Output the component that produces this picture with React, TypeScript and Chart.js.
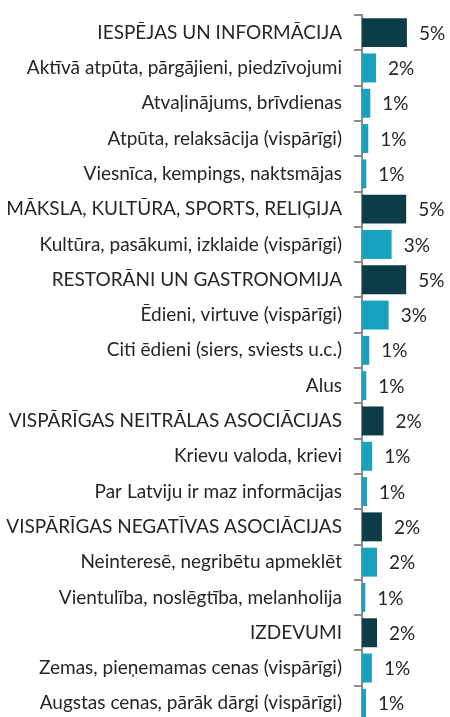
import React, { useEffect, useRef } from "react";
import { Chart, registerables } from "chart.js";

Chart.register(...registerables);

const categories: string[] = [
  "IESPĒJAS UN INFORMĀCIJA",
  "Aktīvā atpūta, pārgājieni, piedzīvojumi",
  "Atvaļinājums, brīvdienas",
  "Atpūta, relaksācija (vispārīgi)",
  "Viesnīca, kempings, naktsmājas",
  "MĀKSLA, KULTŪRA, SPORTS, RELIĢIJA",
  "Kultūra, pasākumi, izklaide (vispārīgi)",
  "RESTORĀNI UN GASTRONOMIJA",
  "Ēdieni, virtuve (vispārīgi)",
  "Citi ēdieni (siers, sviests u.c.)",
  "Alus",
  "VISPĀRĪGAS NEITRĀLAS ASOCIĀCIJAS",
  "Krievu valoda, krievi",
  "Par Latviju ir maz informācijas",
  "VISPĀRĪGAS NEGATĪVAS ASOCIĀCIJAS",
  "Neinteresē, negribētu apmeklēt",
  "Vientulība, noslēgtība, melanholija",
  "IZDEVUMI",
  "Zemas, pieņemamas cenas (vispārīgi)",
  "Augstas cenas, pārāk dārgi (vispārīgi)",
];

const values: number[] = [
  5.0, 1.56, 0.93, 0.7, 0.48, 4.92, 3.3, 4.92, 2.97, 0.81, 0.48, 2.4, 1.14,
  0.56, 2.22, 1.67, 0.37, 1.67, 1.1, 0.44,
];

const isGroup: boolean[] = [
  true, false, false, false, false, true, false, true, false, false, false,
  true, false, false, true, false, false, true, false, false,
];

const valueLabels: string[] = [
  "5%", "2%", "1%", "1%", "1%", "5%", "3%", "5%", "3%", "1%", "1%", "2%",
  "1%", "1%", "2%", "2%", "1%", "2%", "1%", "1%",
];

const DARK = "#0B3C47";
const LIGHT = "#17A3BE";
const FONT = "Lato, 'Open Sans', sans-serif";

const valueLabelPlugin = {
  id: "valueLabels",
  afterDatasetsDraw(chart: any) {
    const meta = chart.getDatasetMeta(0);
    const ctx = chart.ctx;
    ctx.save();
    ctx.font = `19px ${FONT}`;
    ctx.fillStyle = "#262626";
    ctx.textAlign = "left";
    ctx.textBaseline = "middle";
    meta.data.forEach((bar: any, i: number) => {
      ctx.fillText(valueLabels[i], bar.x + 12, bar.y + 1);
    });
    ctx.restore();
  },
};

export default function App() {
  const ref = useRef<HTMLCanvasElement | null>(null);

  useEffect(() => {
    document.body.style.margin = "0";
    const canvas = ref.current;
    if (!canvas) return;
    const chart = new Chart(canvas, {
      type: "bar",
      data: {
        labels: categories,
        datasets: [
          {
            data: values,
            backgroundColor: isGroup.map((g) => (g ? DARK : LIGHT)),
            barPercentage: 0.82,
            categoryPercentage: 1,
          },
        ],
      },
      options: {
        indexAxis: "y",
        responsive: false,
        animation: false,
        maintainAspectRatio: false,
        layout: { padding: { top: 15, bottom: 1, left: 0, right: 0 } },
        plugins: {
          legend: { display: false },
          tooltip: { enabled: false },
        },
        scales: {
          x: {
            display: false,
            min: 0,
            max: 9.8,
          },
          y: {
            afterFit: (scale: any) => {
              scale.width = 362;
              scale.paddingTop = 0;
              scale.paddingBottom = 0;
            },
            border: { display: true, color: "#8C8C8C", width: 2 },
            grid: {
              display: true,
              drawOnChartArea: false,
              drawTicks: true,
              tickLength: 8,
              color: "#8C8C8C",
              lineWidth: 2,
              offset: true,
            },
            ticks: {
              color: "#262626",
              font: { family: FONT, size: 19 },
              padding: 12,
              autoSkip: false,
            },
          },
        },
      },
      plugins: [valueLabelPlugin],
    });
    return () => chart.destroy();
  }, []);

  return (
    <div style={{ width: 450, height: 717, overflow: "hidden" }}>
      <canvas ref={ref} width={450} height={722} style={{ display: "block" }} />
    </div>
  );
}
